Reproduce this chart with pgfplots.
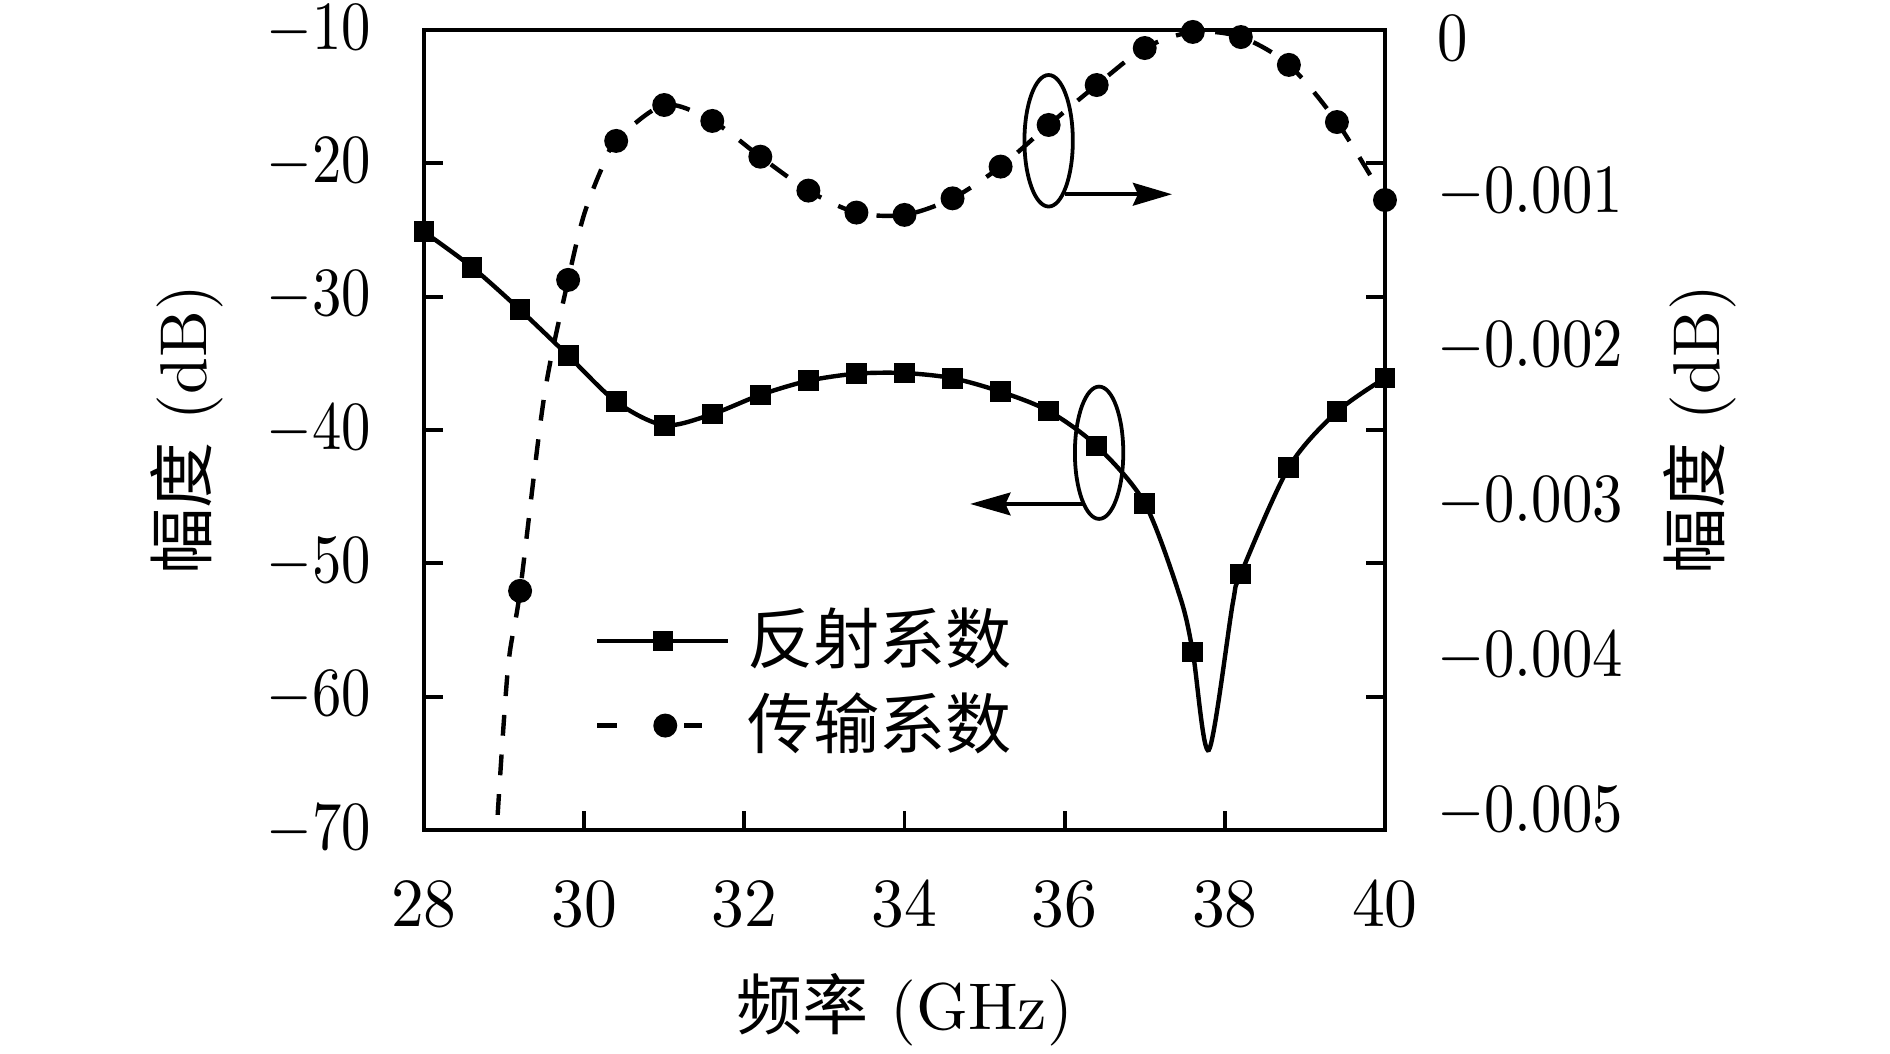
\documentclass[border=0pt]{standalone}
\usepackage{fontspec}
\usepackage{graphicx}
\usepackage{pgfplots}
\usepackage{pgfplotstable}
\pgfplotsset{compat=1.18}
\usetikzlibrary{arrows.meta,calc}
\newfontfamily\cjk{Noto Sans CJK SC}
\newcommand\fs{\fontsize{10.5}{12.6}\selectfont}

\pgfplotstableread{
x y
28.0 -25.14
28.6 -27.79
29.2 -30.99
29.8 -34.42
30.4 -37.88
31.0 -39.64
31.6 -38.81
32.2 -37.37
32.8 -36.31
33.4 -35.78
34.0 -35.73
34.6 -36.12
35.2 -37.13
35.8 -38.58
36.4 -41.20
37.0 -45.50
37.6 -56.65
38.2 -50.80
38.8 -42.80
39.4 -38.64
40.0 -36.11
}\refmarks

\pgfplotstableread{
x y
28.0 -25.14
28.6 -27.79
29.2 -30.99
29.8 -34.42
30.4 -37.88
31.0 -39.64
31.6 -38.81
32.2 -37.37
32.8 -36.31
33.4 -35.78
34.0 -35.73
34.6 -36.12
35.2 -37.13
35.8 -38.58
36.4 -41.20
37.0 -45.50
37.44 -52.50
37.6 -56.65
37.8 -64.00
38.1 -52.97
38.2 -50.80
38.8 -42.80
39.4 -38.64
40.0 -36.11
}\refline

\pgfplotstableread{
x y
29.2 -0.003572
29.8 -0.001563
30.4 -0.000665
31.0 -0.000433
31.6 -0.000536
32.2 -0.000767
32.8 -0.000986
33.4 -0.001128
34.0 -0.001143
34.6 -0.001036
35.2 -0.000831
35.8 -0.000562
36.4 -0.000304
37.0 -0.000065
37.6 0.000039
38.2 0.000006
38.8 -0.000174
39.4 -0.000543
40.0 -0.001047
}\transmarks

\pgfplotstableread{
x y
28.92 -0.005019
29.05 -0.004063
29.2 -0.003572
29.5 -0.002319
29.8 -0.001563
29.99 -0.001156
30.2 -0.000866
30.4 -0.000665
31.0 -0.000433
31.6 -0.000536
32.2 -0.000767
32.8 -0.000986
33.4 -0.001128
34.0 -0.001143
34.6 -0.001036
35.2 -0.000831
35.8 -0.000562
36.4 -0.000304
37.0 -0.000065
37.6 0.000039
38.2 0.000006
38.8 -0.000174
39.4 -0.000543
40.0 -0.001047
}\transline

\begin{document}
\begin{tikzpicture}
\begin{axis}[
  scale only axis, width=152.54pt, height=126.98pt,
  xmin=28, xmax=40, ymin=-70, ymax=-10,
  xtick={28,30,...,40}, ytick={-70,-60,...,-10},
  tick align=inside, xtick pos=left, ytick pos=both,
  major tick length=3pt,
  every tick/.style={black, line width=0.6pt},
  axis line style={line width=0.6pt},
  tick label style={font=\fs},
  xticklabel={\scalebox{0.95}[1]{$\pgfmathprintnumber{\tick}$}},
  yticklabel={\scalebox{0.85}[1]{$\pgfmathprintnumber{\tick}$}},
  xticklabel style={anchor=center, yshift=-11.75pt},
  yticklabel style={anchor=east, inner sep=0pt, xshift=-8.2pt},
  xlabel={{\cjk 频率} (GHz)},
  ylabel={{\cjk 幅度} (dB)},
  every axis x label/.style={at={(axis description cs:0.5,0)}, yshift=-28.6pt, anchor=center, font=\fs},
  every axis y label/.style={at={(axis description cs:0,0.5)}, xshift=-37.6pt, rotate=90, anchor=center, font=\fs},
  clip mode=individual,
  legend cell align=left,
  legend style={draw=none, fill=none, at={(axis description cs:0.178,0.277)}, anchor=north west,
    inner sep=0pt, outer sep=0pt, font=\fs, row sep=3.1pt, column sep=2.7pt, nodes={inner sep=0pt}},
]
\addlegendimage{legend image code/.code={
  \path[draw=none, fill=none] (0pt,-3pt) rectangle (20.8pt,3pt);
  \draw[line width=0.7pt, solid] (0pt,0pt) -- (20.8pt,0pt);
  \fill (9.0pt,-1.45pt) rectangle (11.9pt,1.45pt);
}}
\addlegendentry{\cjk 反射系数}
\addlegendimage{legend image code/.code={
  \path[draw=none, fill=none] (0pt,-3pt) rectangle (20.8pt,3pt);
  \draw[line width=0.7pt, solid] (0pt,0pt) -- (3.2pt,0pt);
  \draw[line width=0.7pt, solid] (13.8pt,0pt) -- (16.7pt,0pt);
  \fill (10.8pt,0pt) circle (1.7pt);
}}
\addlegendentry{\cjk 传输系数}

\addplot[black, line width=0.7pt, smooth, tension=0.5, forget plot] table[x=x,y=y] {\refline};
\addplot[black, only marks, mark=square*, mark size=1.45pt, forget plot] table[x=x,y=y] {\refmarks};

\draw[line width=0.6pt] (axis cs:35.80,-18.31) ellipse [x radius=3.84pt, y radius=10.44pt];
\draw[line width=0.6pt, -{Stealth[length=6.2pt, width=3.6pt, inset=0.8pt]}] (axis cs:36.0,-22.32) -- (axis cs:37.34,-22.32);
\draw[line width=0.6pt] (axis cs:36.43,-41.71) ellipse [x radius=3.84pt, y radius=10.5pt];
\draw[line width=0.6pt, -{Stealth[length=6.4pt, width=3.6pt, inset=0.8pt]}] (axis cs:36.23,-45.55) -- (axis cs:34.82,-45.55);

\coordinate (bl) at (rel axis cs:0,0);
\coordinate (tr) at (rel axis cs:1,1);
\end{axis}

\begin{axis}[
  scale only axis, width=152.54pt, height=126.98pt,
  xmin=28, xmax=40, ymin=-0.0051163, ymax=0.0000517,
  axis x line=none, axis y line*=right, axis line style={draw=none},
  ytick={-0.005,-0.004,-0.003,-0.002,-0.001,0},
  yticklabels={\scalebox{0.88}[1]{$-0.005$},\scalebox{0.88}[1]{$-0.004$},\scalebox{0.88}[1]{$-0.003$},\scalebox{0.88}[1]{$-0.002$},\scalebox{0.88}[1]{$-0.001$},\scalebox{0.88}[1]{$0$}},
  scaled y ticks=false,
  major tick length=0pt,
  yticklabel style={anchor=west, inner sep=0pt, xshift=8.1pt, font=\fs},
  ylabel={{\cjk 幅度} (dB)},
  every axis y label/.style={at={(axis description cs:1,0.5)}, xshift=50pt, rotate=90, anchor=center, font=\fs},
  clip mode=individual,
]
\addplot[black, line width=0.7pt, dash pattern=on 3.3pt off 3pt, smooth, tension=0.5, forget plot] table[x=x,y=y] {\transline};
\addplot[black, only marks, mark=*, mark size=1.7pt, forget plot] table[x=x,y=y] {\transmarks};
\end{axis}

\pgfresetboundingbox
\path[use as bounding box] ($(bl)+(-67.30pt,-35.56pt)$) rectangle ($(tr)+(80.16pt,4.76pt)$);
\end{tikzpicture}
\end{document}
